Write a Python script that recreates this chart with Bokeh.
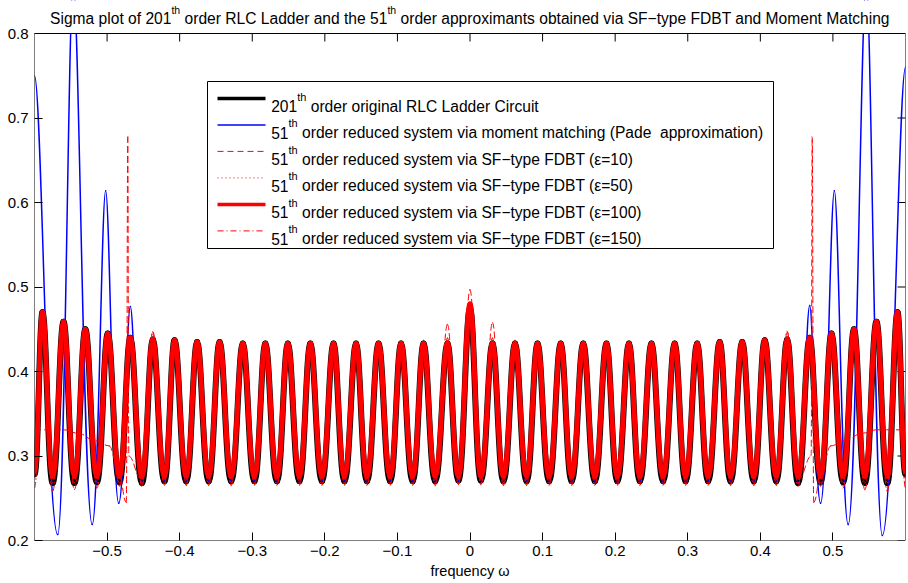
import numpy as np
from bokeh.plotting import figure
from bokeh.models import (FixedTicker, Label, BoxAnnotation, ColumnDataSource)
from bokeh.embed import file_html
from bokeh.resources import INLINE

# ---------------- data ----------------
x_ticks = [-0.5, -0.4, -0.3, -0.2, -0.1, 0.0, 0.1, 0.2, 0.3, 0.4, 0.5]
x_tick_labels = ["\u22120.5", "\u22120.4", "\u22120.3", "\u22120.2", "\u22120.1", "0",
                 "0.1", "0.2", "0.3", "0.4", "0.5"]
y_ticks = [0.2, 0.3, 0.4, 0.5, 0.6, 0.7, 0.8]
y_tick_labels = ["0.2", "0.3", "0.4", "0.5", "0.6", "0.7", "0.8"]
x_lim = [-0.6, 0.6]
y_lim = [0.2, 0.8]

edge_omega = [-0.6, 0.6]
peak_omega = [-0.589, -0.560, -0.530, -0.499, -0.468, -0.437, -0.407, -0.376, -0.345,
              -0.313, -0.282, -0.251, -0.220, -0.188, -0.157, -0.126, -0.095, -0.064,
              -0.031, 0.000, 0.031, 0.062, 0.093, 0.125, 0.156, 0.188, 0.219, 0.250,
              0.282, 0.313, 0.344, 0.375, 0.406, 0.437, 0.468, 0.498, 0.529, 0.560, 0.589]
trough_omega = [-0.575, -0.545, -0.514, -0.483, -0.452, -0.421, -0.391, -0.360, -0.329,
                -0.297, -0.266, -0.235, -0.204, -0.173, -0.142, -0.110, -0.079, -0.048,
                -0.016, 0.015, 0.046, 0.078, 0.109, 0.140, 0.172, 0.203, 0.234, 0.266,
                0.297, 0.328, 0.359, 0.391, 0.422, 0.452, 0.483, 0.514, 0.544, 0.575]

# 201th order original
orig_edge = [0.278, 0.278]
orig_peak = [0.470, 0.459, 0.450, 0.445, 0.440, 0.438, 0.437, 0.435, 0.435,
             0.433, 0.433, 0.433, 0.433, 0.433, 0.433, 0.433, 0.433, 0.433, 0.433,
             0.475,
             0.433, 0.433, 0.433, 0.433, 0.433, 0.433, 0.433, 0.433, 0.433, 0.433,
             0.435, 0.435, 0.437, 0.438, 0.440, 0.445, 0.450, 0.459, 0.470]
orig_trough = [0.268, 0.268, 0.269, 0.269, 0.268, 0.270, 0.270, 0.270, 0.270, 0.270,
               0.270, 0.270, 0.270, 0.270, 0.270, 0.270, 0.270, 0.270, 0.271,
               0.271, 0.270, 0.270, 0.270, 0.270, 0.270, 0.270, 0.270, 0.270, 0.270,
               0.270, 0.270, 0.270, 0.270, 0.268, 0.269, 0.269, 0.268, 0.268]

# moment matching (Pade), differs from the original beyond |w| ~ 0.46
mm_left_omega = [-0.600, -0.568, -0.5467, -0.5205, -0.502, -0.484, -0.468]
mm_left_vals = [0.750, 0.207, 0.860, 0.219, 0.614, 0.244, 0.477]
mm_right_omega = [0.468, 0.483, 0.502, 0.521, 0.546, 0.568, 0.600]
mm_right_vals = [0.478, 0.244, 0.614, 0.219, 0.860, 0.206, 0.760]

# SF-type FDBT eps=100 (thick red)
f100_edge = [0.282, 0.282]
f100_peak = [0.470, 0.459, 0.450, 0.445, 0.440, 0.438, 0.437, 0.435, 0.435,
             0.433, 0.433, 0.433, 0.433, 0.433, 0.433, 0.433, 0.433, 0.433, 0.433,
             0.480,
             0.433, 0.433, 0.433, 0.433, 0.433, 0.433, 0.433, 0.433, 0.433, 0.433,
             0.435, 0.435, 0.437, 0.438, 0.440, 0.445, 0.450, 0.459, 0.470]
f100_trough = [0.276] * 38

# eps=50 (dotted) and eps=150 (dash-dot)
f50_edge = [0.275, 0.275]
f50_peak = f100_peak
f50_trough = [0.268] * 38
f150_edge = [0.262, 0.262]
f150_peak = [0.470, 0.459, 0.450, 0.445, 0.440, 0.447, 0.437, 0.435, 0.435,
             0.433, 0.433, 0.433, 0.433, 0.433, 0.433, 0.433, 0.433, 0.436, 0.440,
             0.482,
             0.440, 0.436, 0.433, 0.433, 0.433, 0.433, 0.433, 0.433, 0.433, 0.433,
             0.435, 0.435, 0.437, 0.448, 0.440, 0.445, 0.450, 0.459, 0.470]
f150_trough = [0.258, 0.260, 0.262, 0.264, 0.264, 0.265, 0.265, 0.265, 0.265, 0.265,
               0.265, 0.265, 0.265, 0.265, 0.265, 0.265, 0.265, 0.265, 0.266,
               0.266, 0.265, 0.265, 0.265, 0.265, 0.265, 0.265, 0.265, 0.265, 0.265,
               0.265, 0.265, 0.265, 0.265, 0.264, 0.264, 0.262, 0.260, 0.258]

# eps=10 (dashed): plateau and spike beyond |w| ~ 0.47
f10_left_omega = [-0.600, -0.560, -0.540, -0.515, -0.497, -0.484, -0.4735, -0.4715, -0.4700]
f10_left_vals = [0.331, 0.331, 0.327, 0.318, 0.312, 0.285, 0.245, 0.678, 0.300]
f10_right_omega = [0.4700, 0.4715, 0.4735, 0.484, 0.497, 0.515, 0.540, 0.560, 0.600]
f10_right_vals = [0.300, 0.678, 0.245, 0.285, 0.312, 0.318, 0.327, 0.331, 0.331]
f10_peak = [0.470, 0.459, 0.450, 0.445, 0.440, 0.447, 0.437, 0.435, 0.435,
            0.433, 0.433, 0.433, 0.433, 0.433, 0.433, 0.433, 0.433, 0.437, 0.456,
            0.497,
            0.458, 0.437, 0.433, 0.433, 0.433, 0.433, 0.433, 0.433, 0.433, 0.433,
            0.435, 0.435, 0.437, 0.447, 0.440, 0.445, 0.450, 0.459, 0.470]
f10_trough = [0.272] * 38

title_parts = ["Sigma plot of 201", "th", " order RLC Ladder and the 51", "th",
               " order approximants obtained via SF\u2212type FDBT and Moment Matching"]
legend_nums = ["201", "51", "51", "51", "51", "51"]
legend_rest = [" order original RLC Ladder Circuit",
               " order reduced system via moment matching (Pade\u00a0 approximation)",
               " order reduced system via SF\u2212type FDBT (\u03b5=10)",
               " order reduced system via SF\u2212type FDBT (\u03b5=50)",
               " order reduced system via SF\u2212type FDBT (\u03b5=100)",
               " order reduced system via SF\u2212type FDBT (\u03b5=150)"]
x_label = "frequency \u03c9"

# ---------------- helpers ----------------
FONT = "Liberation Sans"
HELV = {' ': 278, '\u00a0': 278, '(': 333, ')': 333, '-': 333, '.': 278, '=': 584,
        '\u2212': 584,
        'A': 667, 'B': 667, 'C': 722, 'D': 722, 'E': 667, 'F': 611, 'G': 778, 'H': 722,
        'I': 278, 'J': 500, 'K': 667, 'L': 556, 'M': 833, 'N': 722, 'O': 778, 'P': 667,
        'Q': 778, 'R': 722, 'S': 667, 'T': 611, 'U': 722, 'V': 667, 'W': 944, 'X': 667,
        'Y': 667, 'Z': 611, 'a': 556, 'b': 556, 'c': 500, 'd': 556, 'e': 556, 'f': 278,
        'g': 556, 'h': 556, 'i': 222, 'j': 222, 'k': 500, 'l': 222, 'm': 833, 'n': 556,
        'o': 556, 'p': 556, 'q': 556, 'r': 333, 's': 500, 't': 278, 'u': 556, 'v': 500,
        'w': 722, 'x': 500, 'y': 500, 'z': 500}


def tw(s, size):
    return sum(HELV.get(c, 556) for c in s) / 1000.0 * size


# plot box: page x 34..905 px, y 33..540 px; the frame extends up to page y 0
BOX_TOP, BOX_BOTTOM, BOX_LEFT, BOX_RIGHT = 33, 540, 34, 905
YPX = (y_lim[1] - y_lim[0]) / (BOX_BOTTOM - BOX_TOP)
XPX = (x_lim[1] - x_lim[0]) / (BOX_RIGHT - BOX_LEFT)


def dx(px):
    return x_lim[0] + (px - BOX_LEFT) * XPX


def dy(py):
    return y_lim[1] - (py - BOX_TOP) * YPX


def chain(peaks, troughs):
    out = []
    for i in range(len(troughs)):
        out += [peaks[i], troughs[i]]
    out.append(peaks[-1])
    return out


def full(edge, peaks, troughs):
    xs = [edge_omega[0]] + chain(peak_omega, trough_omega) + [edge_omega[1]]
    ys = [edge[0]] + chain(peaks, troughs) + [edge[1]]
    return xs, ys


def middle(peaks, troughs, lim=0.4525):
    xs = chain(peak_omega, trough_omega)
    ys = chain(peaks, troughs)
    keep = [(a, b) for a, b in zip(xs, ys) if abs(a) <= lim]
    return [a for a, b in keep], [b for a, b in keep]


def bez(p, xs, ys, kp=0.38, kt=0.46, **kw):
    xs = np.asarray(xs, float)
    ys = np.asarray(ys, float)
    x0, x1, y0, y1 = xs[:-1], xs[1:], ys[:-1], ys[1:]
    d = x1 - x0
    k0 = np.where(y0 > y1, kp, kt)
    k1 = np.where(y1 > y0, kp, kt)
    src = ColumnDataSource(dict(x0=x0, y0=y0, x1=x1, y1=y1,
                                cx0=x0 + k0 * d, cy0=y0, cx1=x1 - k1 * d, cy1=y1))
    return p.bezier(x0="x0", y0="y0", x1="x1", y1="y1", cx0="cx0", cy0="cy0",
                    cx1="cx1", cy1="cy1", source=src, line_cap="round", **kw)


def put(fig, x, y, s, size, **kw):
    fig.add_layout(Label(x=x, y=y, text=s, text_font=FONT, text_font_size=f"{size}px",
                         text_baseline="alphabetic", text_color="black",
                         level="overlay", **kw))


# ---------------- main figure ----------------
p = figure(width=908, height=583, x_range=(x_lim[0], x_lim[1]),
           y_range=(y_lim[0], dy(0)), title=None,
           output_backend="svg", toolbar_location=None,
           min_border_left=BOX_LEFT, min_border_right=908 - BOX_RIGHT, min_border_top=0,
           min_border_bottom=583 - BOX_BOTTOM)
p.xgrid.visible = False
p.ygrid.visible = False
p.outline_line_color = None

p.xaxis.ticker = FixedTicker(ticks=x_ticks)
p.xaxis.major_label_overrides = {t: s for t, s in zip(x_ticks, x_tick_labels)}
p.yaxis.ticker = FixedTicker(ticks=y_ticks)
p.yaxis.major_label_overrides = {t: s for t, s in zip(y_ticks, y_tick_labels)}
for ax in (p.xaxis[0], p.yaxis[0]):
    ax.axis_line_color = None
    ax.major_tick_in = 8
    ax.major_tick_out = 0
    ax.minor_tick_line_color = None
    ax.major_tick_line_color = "black"
    ax.major_label_text_font = FONT
    ax.major_label_text_font_size = "15px"
    ax.major_label_text_color = "black"
p.xaxis.major_label_standoff = 5
p.yaxis.major_label_standoff = 6
p.xaxis.axis_label = x_label
p.xaxis.axis_label_text_font = FONT
p.xaxis.axis_label_text_font_size = "14.5px"
p.xaxis.axis_label_text_font_style = "normal"
p.xaxis.axis_label_text_color = "black"
p.xaxis.axis_label_standoff = 4

# mirrored ticks on top and right (derived from the tick arrays)
p.segment(x0=x_ticks, y0=[y_lim[1]] * len(x_ticks), x1=x_ticks,
          y1=[y_lim[1] - 8 * YPX] * len(x_ticks), line_color="black", line_width=1)
p.segment(x0=[x_lim[1]] * len(y_ticks), y0=y_ticks, x1=[x_lim[1] - 8 * XPX] * len(y_ticks),
          y1=y_ticks, line_color="black", line_width=1)

# ---------------- curves ----------------
ox, oy = full(orig_edge, orig_peak, orig_trough)
bez(p, ox, oy, line_color="black", line_width=6)

mx_mid, my_mid = middle(orig_peak, orig_trough)
bez(p, mm_left_omega + mx_mid + mm_right_omega, mm_left_vals + my_mid + mm_right_vals,
    kp=0.3, line_color="#0000ff", line_width=1.5)

fx_mid, fy_mid = middle(f10_peak, f10_trough)
bez(p, f10_left_omega + fx_mid + f10_right_omega, f10_left_vals + fy_mid + f10_right_vals,
    line_color="#ff0000", line_width=1, line_dash="6 4")

x50, y50 = full(f50_edge, f50_peak, f50_trough)
bez(p, x50, y50, line_color="#ff0000", line_width=1, line_dash="1 3")

x100, y100 = full(f100_edge, f100_peak, f100_trough)
bez(p, x100, y100, line_color="#ff0000", line_width=5)

x150, y150 = full(f150_edge, f150_peak, f150_trough)
bez(p, x150, y150, line_color="#ff0000", line_width=1, line_dash="6 3 1 3")

# white band above the axes box (hides curve parts above 0.8), then the box itself
p.add_layout(BoxAnnotation(bottom=y_lim[1], fill_color="white", fill_alpha=1.0,
                           line_color=None, level="annotation"))
p.add_layout(BoxAnnotation(left=x_lim[0], right=x_lim[1], bottom=y_lim[0], top=y_lim[1],
                           fill_alpha=0.0, line_color="black", line_width=1,
                           line_alpha=1.0, level="annotation"))

# ---------------- legend ----------------
p.add_layout(BoxAnnotation(left=dx(207), right=dx(773), top=dy(81), bottom=dy(248),
                           fill_color="white", fill_alpha=1.0, line_color="black",
                           line_width=1, line_alpha=1.0, level="annotation"))
leg_styles = [dict(line_color="black", line_width=3.5),
              dict(line_color="#0000ff", line_width=1.5),
              dict(line_color="#ff0000", line_width=1, line_dash="6 4"),
              dict(line_color="#ff0000", line_width=1, line_dash="1 3"),
              dict(line_color="#ff0000", line_width=3.5),
              dict(line_color="#ff0000", line_width=1, line_dash="6 3 1 3")]
LFS = 15.6
SFS = 11.0
for i, st in enumerate(leg_styles):
    base = 105.7 + 26.5 * i
    ly = dy(base - 7.8)
    r = p.segment(x0=[dx(217)], y0=[ly], x1=[dx(265)], y1=[ly], **st)
    r.level = "overlay"
    x0 = 270.7
    put(p, dx(x0), dy(base), legend_nums[i], LFS)
    xs = x0 + tw(legend_nums[i], LFS)
    put(p, dx(xs), dy(base - 9.5), "th", SFS)
    xr = xs + tw("th", SFS) + tw(' ', LFS)
    put(p, dx(xr), dy(base), legend_rest[i].lstrip(' '), LFS)

# ---------------- title (inside the white band above the box) ----------------
TFS = 15.6
TSFS = 10.5
widths = [tw(s, TSFS if s == "th" else TFS) for s in title_parts]
xcur = (BOX_LEFT + BOX_RIGHT) / 2.0 - sum(widths) / 2.0
for s, w in zip(title_parts, widths):
    sup = (s == "th")
    lead = len(s) - len(s.lstrip(' '))
    put(p, dx(xcur + tw(' ' * lead, TFS)), dy(9.5 if sup else 18.0), s.lstrip(' '),
        TSFS if sup else TFS)
    xcur += w

open("out.html", "w").write(file_html(p, INLINE))
